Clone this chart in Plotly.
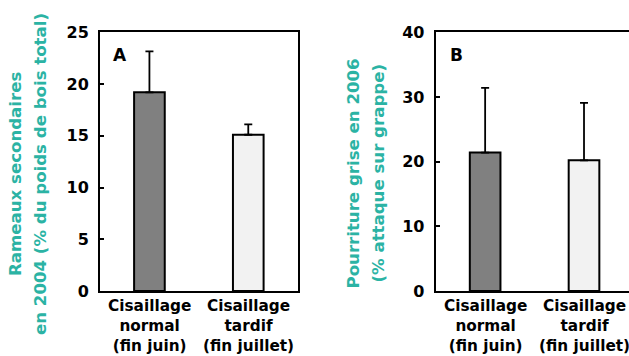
import plotly.graph_objects as go

categories = ["Cisaillage<br>normal<br>(fin juin)", "Cisaillage<br>tardif<br>(fin juillet)"]
vals_a = [19.2, 15.1]
err_a = [3.95, 1.0]
vals_b = [21.4, 20.2]
err_b = [10.0, 8.9]
ticks_a = [0, 5, 10, 15, 20, 25]
ticks_b = [0, 10, 20, 30, 40]
bar_colors = ["#808080", "#f2f2f2"]

W, H = 629, 356
FONT = "DejaVu Sans"
TEAL = "#2bb3a4"

fig = go.Figure()
x_pos = [0, 1]
fig.add_trace(go.Bar(
    x=x_pos, y=vals_a, width=0.31, xaxis="x", yaxis="y",
    marker=dict(color=bar_colors, line=dict(color="black", width=2)),
    error_y=dict(type="data", array=err_a, arrayminus=[0, 0], symmetric=False,
                 color="black", thickness=1.8, width=4),
    showlegend=False, hoverinfo="skip"))
fig.add_trace(go.Bar(
    x=x_pos, y=vals_b, width=0.31, xaxis="x2", yaxis="y2",
    marker=dict(color=bar_colors, line=dict(color="black", width=2)),
    error_y=dict(type="data", array=err_b, arrayminus=[0, 0], symmetric=False,
                 color="black", thickness=1.8, width=4),
    showlegend=False, hoverinfo="skip"))

ytop = 1 - 32.3 / H
ybot = 1 - 291 / H
tickfont = dict(family=FONT, size=16, color="black", weight="bold")
xfont = dict(family=FONT, size=15.3, color="black", weight="bold")

common_x = dict(showline=True, linecolor="black", linewidth=2, mirror=True,
                tickvals=x_pos, showticklabels=False, ticks="", showgrid=False,
                zeroline=False, fixedrange=True, automargin=False)
common_y = dict(showline=True, linecolor="black", linewidth=2, ticks="inside",
                ticklen=4, tickwidth=1.5, tickcolor="black", showgrid=False,
                zeroline=False, tickfont=tickfont, ticklabelstandoff=6, automargin=False)

fig.update_layout(
    width=W, height=H, margin=dict(l=0, r=0, t=0, b=0, autoexpand=False),
    paper_bgcolor="white", plot_bgcolor="white",
    xaxis=dict(domain=[100 / W, 297.7 / W], range=[-0.5, 1.5], anchor="y", **common_x),
    yaxis=dict(domain=[ybot, ytop], range=[0, 25], tickvals=ticks_a, anchor="x", mirror=True, **common_y),
    xaxis2=dict(domain=[435.7 / W, 1], range=[-0.5, 1.455], anchor="y2", **common_x),
    yaxis2=dict(domain=[ybot, ytop], range=[0, 40], tickvals=ticks_b, anchor="x2", mirror=False, **common_y),
)

# category labels under bars
for xref in ("x", "x2"):
    for xv, lab in zip(x_pos, categories):
        fig.add_annotation(text=lab, x=xv, xref=xref, y=1 - 325.5 / H, yref="paper",
                           showarrow=False, font=xfont, xanchor="center", yanchor="middle",
                           align="center")

tfont = dict(family=FONT, size=16.6, color=TEAL, weight="bold")
annots = [
    dict(text="Rameaux secondaires", x=15, y=174),
    dict(text="en 2004 (% du poids de bois total)", x=40, y=174),
    dict(text="Pourriture grise en 2006", x=353, y=173.5),
    dict(text="(% attaque sur grappe)", x=378, y=173.5),
]
for a in annots:
    fig.add_annotation(text=a["text"], x=a["x"] / W, y=1 - a["y"] / H, xref="paper", yref="paper",
                       textangle=-90, showarrow=False, font=tfont,
                       xanchor="center", yanchor="middle")

lfont = dict(family=FONT, size=17, color="black", weight="bold")
fig.add_annotation(text="A", x=119.5 / W, y=1 - 55 / H, xref="paper", yref="paper",
                   showarrow=False, font=lfont, xanchor="center", yanchor="middle")
fig.add_annotation(text="B", x=456.5 / W, y=1 - 55 / H, xref="paper", yref="paper",
                   showarrow=False, font=lfont, xanchor="center", yanchor="middle")

fig.write_html("out.html", config={"displayModeBar": False},
               post_script="document.body.style.margin='0';document.body.style.overflow='hidden';")
